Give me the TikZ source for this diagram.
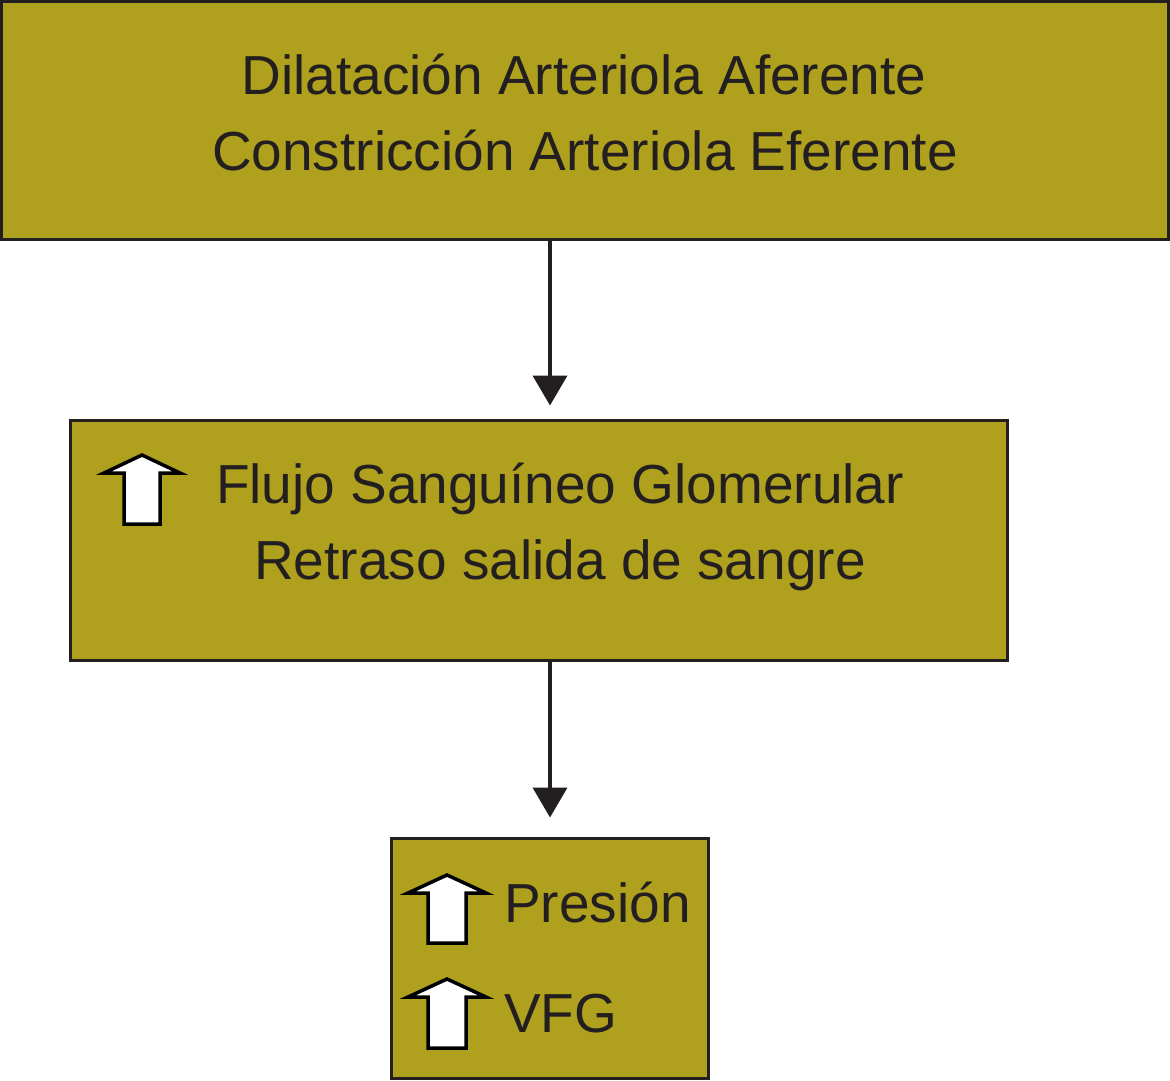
\documentclass[tikz,border=0pt]{standalone}
\usepackage{fontspec}
\setmainfont{Liberation Sans}
\usetikzlibrary{arrows.meta}
\definecolor{olivebox}{RGB}{175,160,30}
\definecolor{inkdark}{RGB}{35,31,32}
\begin{document}
\begin{tikzpicture}[x=1pt,y=-1pt,
  boxst/.style={draw=inkdark,line width=3pt,fill=olivebox,rectangle,inner sep=0pt,outer sep=0pt,anchor=north west},
  txt/.style={anchor=base,inner sep=0pt,text=inkdark,font=\fontsize{55}{66}\selectfont},
  txtw/.style={anchor=base west,inner sep=0pt,text=inkdark,font=\fontsize{55}{66}\selectfont},
  conn/.style={draw=inkdark,line width=4pt,-{Triangle[length=30pt,width=34pt]}},
  uparrow/.style={draw=black,fill=white,line width=3.5pt,line join=miter}]
\useasboundingbox (0,0) rectangle (1170,1081);
% boxes
\node[boxst,minimum width=1167pt,minimum height=238pt] (b1) at (1.5,1.5) {};
\node[boxst,minimum width=937pt,minimum height=240pt] (b2) at (70.5,420.5) {};
\node[boxst,minimum width=317pt,minimum height=240pt] (b3) at (391,838.5) {};
% texts
\node[txt] (t1) at (584,94) {Dilatación Arteriola Aferente};
\node[txt] (t2) at (585,170) {Constricción Arteriola Eferente};
\node[txt] (t3) at (560,503) {Flujo Sanguíneo Glomerular};
\node[txt] (t4) at (560,579) {Retraso salida de sangre};
\node[txtw] (t5) at (504,922) {Presión};
\node[txtw] (t6) at (504,1032) {VFG};
% up arrows
\draw[uparrow] (142,455) -- (180,473) -- (160,473) -- (160,524) -- (124,524) -- (124,473) -- (104,473) -- cycle;
\draw[uparrow] (447,875) -- (486,893) -- (466,893) -- (466,943) -- (428,943) -- (428,893) -- (408,893) -- cycle;
\draw[uparrow] (447,979) -- (486,997) -- (466,997) -- (466,1048) -- (428,1048) -- (428,997) -- (408,997) -- cycle;
% connectors
\draw[conn,shorten >=15pt] ([xshift=-35pt]b1.south) -- ([xshift=11pt]b2.north);
\draw[conn,shorten >=21pt] ([xshift=11pt]b2.south) -- ([xshift=0.5pt]b3.north);
\end{tikzpicture}
\end{document}
